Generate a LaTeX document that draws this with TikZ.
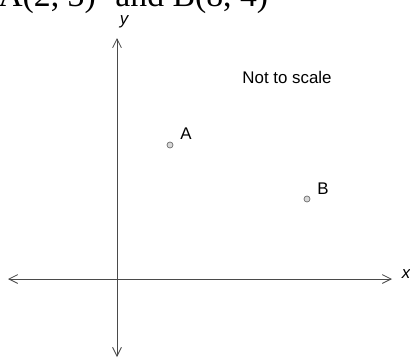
\documentclass[tikz,border=0pt]{standalone}
\usepackage{fontspec}
\setmainfont{Liberation Sans}
\newfontfamily\headserif{Liberation Serif}
\usepackage{tikz}
\usetikzlibrary{arrows.meta}
\definecolor{axGray}{HTML}{4A4A4A}
\definecolor{ptGray}{HTML}{6E6E6E}
\definecolor{ptFill}{HTML}{D8D8D8}
\tikzset{
  axis/.style={{Straight Barb[length=2.2mm,width=2.2mm]}-{Straight Barb[length=2.2mm,width=2.2mm]}, line width=0.6pt, draw=axGray},
  pointmark/.style={circle, draw=ptGray, fill=ptFill, line width=0.5pt, inner sep=0pt, minimum size=1.5mm},
  ptlabel/.style={font=\fontsize{12}{14}\selectfont, text=black, inner sep=0pt},
  axlabel/.style={font=\fontsize{12}{14}\selectfont\itshape, text=black, inner sep=0pt}
}

\begin{document}
\begin{tikzpicture}[x=0.025cm, y=-0.025cm]
\useasboundingbox (0,0) rectangle (410,358);
\clip (0,0) rectangle (410,358);

% question line, cut by the crop
\node[anchor=base west, inner sep=0pt, font=\headserif\fontsize{24}{28}\selectfont] (head) at (-2,6) {A(2, 3)\,\, and B(8, 4)};

% axes
\coordinate (yTop) at (117,38);
\coordinate (yBot) at (117,357);
\coordinate (xLeft) at (8,279);
\coordinate (xRight) at (392,279);
\draw[axis] (yBot) -- (yTop);
\draw[axis] (xLeft) -- (xRight);
\node[axlabel] (ylab) at (124,22) {y};
\node[axlabel] (xlab) at (406,274) {x};

\node[ptlabel] (note) at (287,77) {Not to scale};

% points
\node[pointmark] (ptA) at (170,145) {};
\node[pointmark] (ptB) at (307,199) {};
\node[ptlabel, anchor=south west] (labA) at (180,140) {A};
\node[ptlabel, anchor=south west] (labB) at (317,195) {B};
\end{tikzpicture}
\end{document}
